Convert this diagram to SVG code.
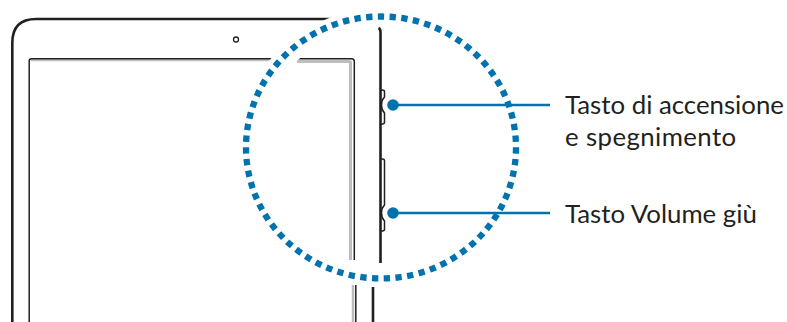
<svg xmlns="http://www.w3.org/2000/svg" width="787" height="322" viewBox="0 0 787 322">
<style>
.o{fill:none;stroke:#231f20;stroke-width:2.6}
.s{fill:none;stroke:#231f20;stroke-width:1.5}
.g{fill:none;stroke:#bcbec0}
.b{fill:none;stroke:#231f20;stroke-width:1.5}
.c{fill:none;stroke:#0073ae;stroke-width:2.6}
.d{fill:#0073ae}
text{font-family:"Lato","Open Sans","Liberation Sans",sans-serif;font-size:25.8px;fill:#231f20}
</style>
<g id="tablet">
<path class="g" stroke-width="2" d="M31 60.300H297"/>
<path class="g" stroke-width="3" d="M297 61.500H349.500Q350.500 61.500 350.500 63V260"/>
<path class="g" stroke-width="2.500" d="M353 285V322"/>
<path class="s" d="M29.200 322V61Q29.200 58.700 31.500 58.700H351.500Q354.300 58.700 354.300 61.500V260"/>
<path class="s" d="M355.800 285V322"/>
<path class="o" d="M12.300 322V43Q12.300 19 36 19H340"/>
<circle cx="236" cy="39.500" r="2.500" fill="none" stroke="#231f20" stroke-width="1.300"/>
</g>
<ellipse cx="381" cy="147.500" rx="133" ry="129" fill="none" stroke="#fff" stroke-width="20"/>
<g id="tablet-side">
<path class="o" d="M378.500 28Q380.500 29 380.500 32V263"/>
<path class="o" d="M373 287V322"/>
</g>
<g id="button-power">
<path class="b" d="M381 90H382.500Q384.500 90 384.500 92V97Q381.500 100 381.500 105Q381.500 110 384.500 113V122Q384.500 124 382.500 124H381"/>
</g>
<g id="button-volume">
<path class="b" d="M381 159H382.500Q384.500 159 384.500 161V205Q381.500 208 381.500 213Q381.500 218 384.500 221V229Q384.500 231 382.500 231H381"/>
</g>
<g id="magnifier">
<path fill="none" stroke="#0073ae" stroke-width="6.300" pathLength="71" stroke-dasharray="0.54 0.46" stroke-dashoffset="0.27" d="M381 16.500A135 131 0 1 1 381 278.500A135 131 0 1 1 381 16.500Z"/>
</g>
<g id="connectors">
<path class="c" d="M393 105H550"/>
<path class="c" d="M393 213H550"/>
<circle class="d" cx="393" cy="105" r="5.800"/>
<circle class="d" cx="393" cy="213" r="5.800"/>
</g>
<g id="label-power">
<text x="565" y="114">Tasto di accensione</text>
<text x="565" y="146" letter-spacing="0.4">e spegnimento</text>
</g>
<g id="label-volume">
<text x="565" y="223">Tasto Volume giù</text>
</g>
</svg>
